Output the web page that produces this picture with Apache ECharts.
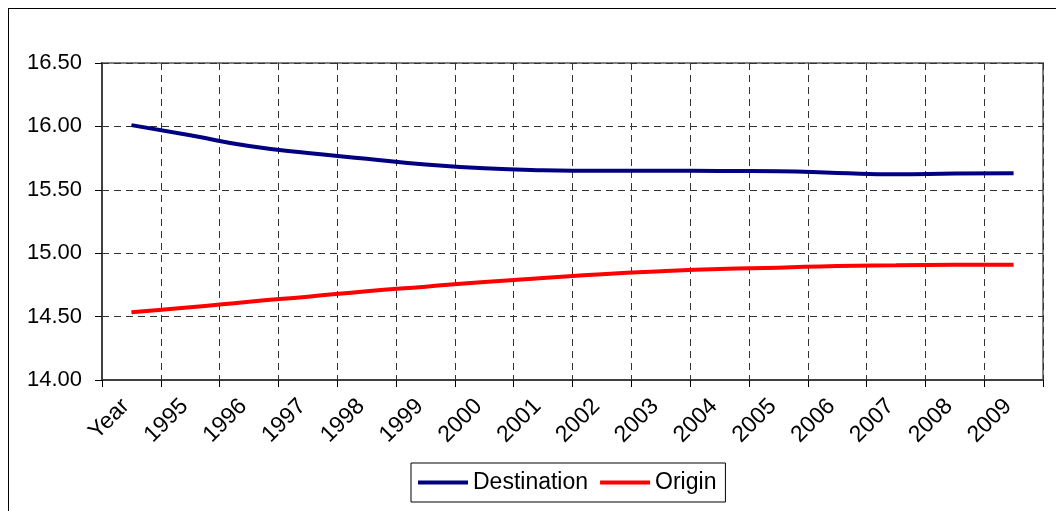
<!DOCTYPE html>
<html>
<head>
<meta charset="utf-8">
<script src="https://cdn.jsdelivr.net/npm/echarts@6/dist/echarts.min.js"></script>
<style>
  html, body { margin: 0; padding: 0; background: #fff; }
  #frame {
    position: absolute; left: 8px; top: 8px; width: 1060px; height: 520px;
    border-top: 1.5px solid #000; border-left: 1.5px solid #000;
  }
  #box { position: absolute; left: 0; top: 0; width: 1056px; height: 511px; }
</style>
</head>
<body>
<div id="frame"></div>
<div id="box"></div>
<script>
  // categories on the x axis (first one is the header cell "Year")
  const years = ['Year', '1995', '1996', '1997', '1998', '1999', '2000', '2001',
    '2002', '2003', '2004', '2005', '2006', '2007', '2008', '2009']
  // values
  const destination = [16.01, 15.93, 15.845, 15.79, 15.745, 15.70, 15.67, 15.655,
    15.65, 15.65, 15.648, 15.646, 15.633, 15.622, 15.628, 15.63]
  const origin = [14.534, 14.573, 14.618, 14.657, 14.70, 14.736, 14.773, 14.804,
    14.834, 14.857, 14.875, 14.886, 14.899, 14.904, 14.908, 14.909]
  const yMin = 14
  const yMax = 16.5
  const yStep = 0.5

  const font = 'Arial, "Liberation Sans", sans-serif'
  let myChart = echarts.init(document.getElementById('box'))
  let option = {
    animation: false,
    textStyle: { fontFamily: font },
    grid: {
      left: 102, top: 63, right: 13, bottom: 131,
      show: true, borderColor: '#808080', borderWidth: 2
    },
    legend: {
      left: 411, top: 463,
      padding: [8, 9, 8, 7],
      borderColor: '#000', borderWidth: 1, backgroundColor: '#fff',
      icon: 'rect', itemWidth: 50, itemHeight: 4, itemGap: 12,
      textStyle: { fontFamily: font, fontSize: 23, color: '#000' },
      data: ['Destination', 'Origin']
    },
    xAxis: {
      type: 'category',
      data: years,
      boundaryGap: true,
      axisLine: { lineStyle: { color: '#404040', width: 2 } },
      axisTick: { show: true, interval: 0, length: 7, lineStyle: { color: '#000' } },
      axisLabel: { interval: 0, rotate: 45, margin: 17, padding: [0, 8, 0, 0],
        fontSize: 23, color: '#000', fontFamily: font },
      splitLine: { show: true, interval: 0, lineStyle: { color: '#333', type: [7, 5], width: 1 } }
    },
    yAxis: {
      type: 'value',
      min: yMin, max: yMax, interval: yStep,
      axisLine: { show: true, lineStyle: { color: '#404040', width: 2 } },
      axisTick: { show: true, length: 7, lineStyle: { color: '#000' } },
      axisLabel: { margin: 20, fontSize: 22, color: '#000', fontFamily: font,
        formatter: v => v.toFixed(2) },
      splitLine: { show: true, lineStyle: { color: '#333', type: [7, 5], width: 1 } }
    },
    series: [
      {
        name: 'Destination', type: 'line', smooth: true, showSymbol: false,
        lineStyle: { color: '#000080', width: 4 }, itemStyle: { color: '#000080' },
        data: destination
      },
      {
        name: 'Origin', type: 'line', smooth: true, showSymbol: false,
        lineStyle: { color: '#ff0000', width: 4 }, itemStyle: { color: '#ff0000' },
        data: origin
      }
    ]
  }
  myChart.setOption(option)
</script>
</body>
</html>
